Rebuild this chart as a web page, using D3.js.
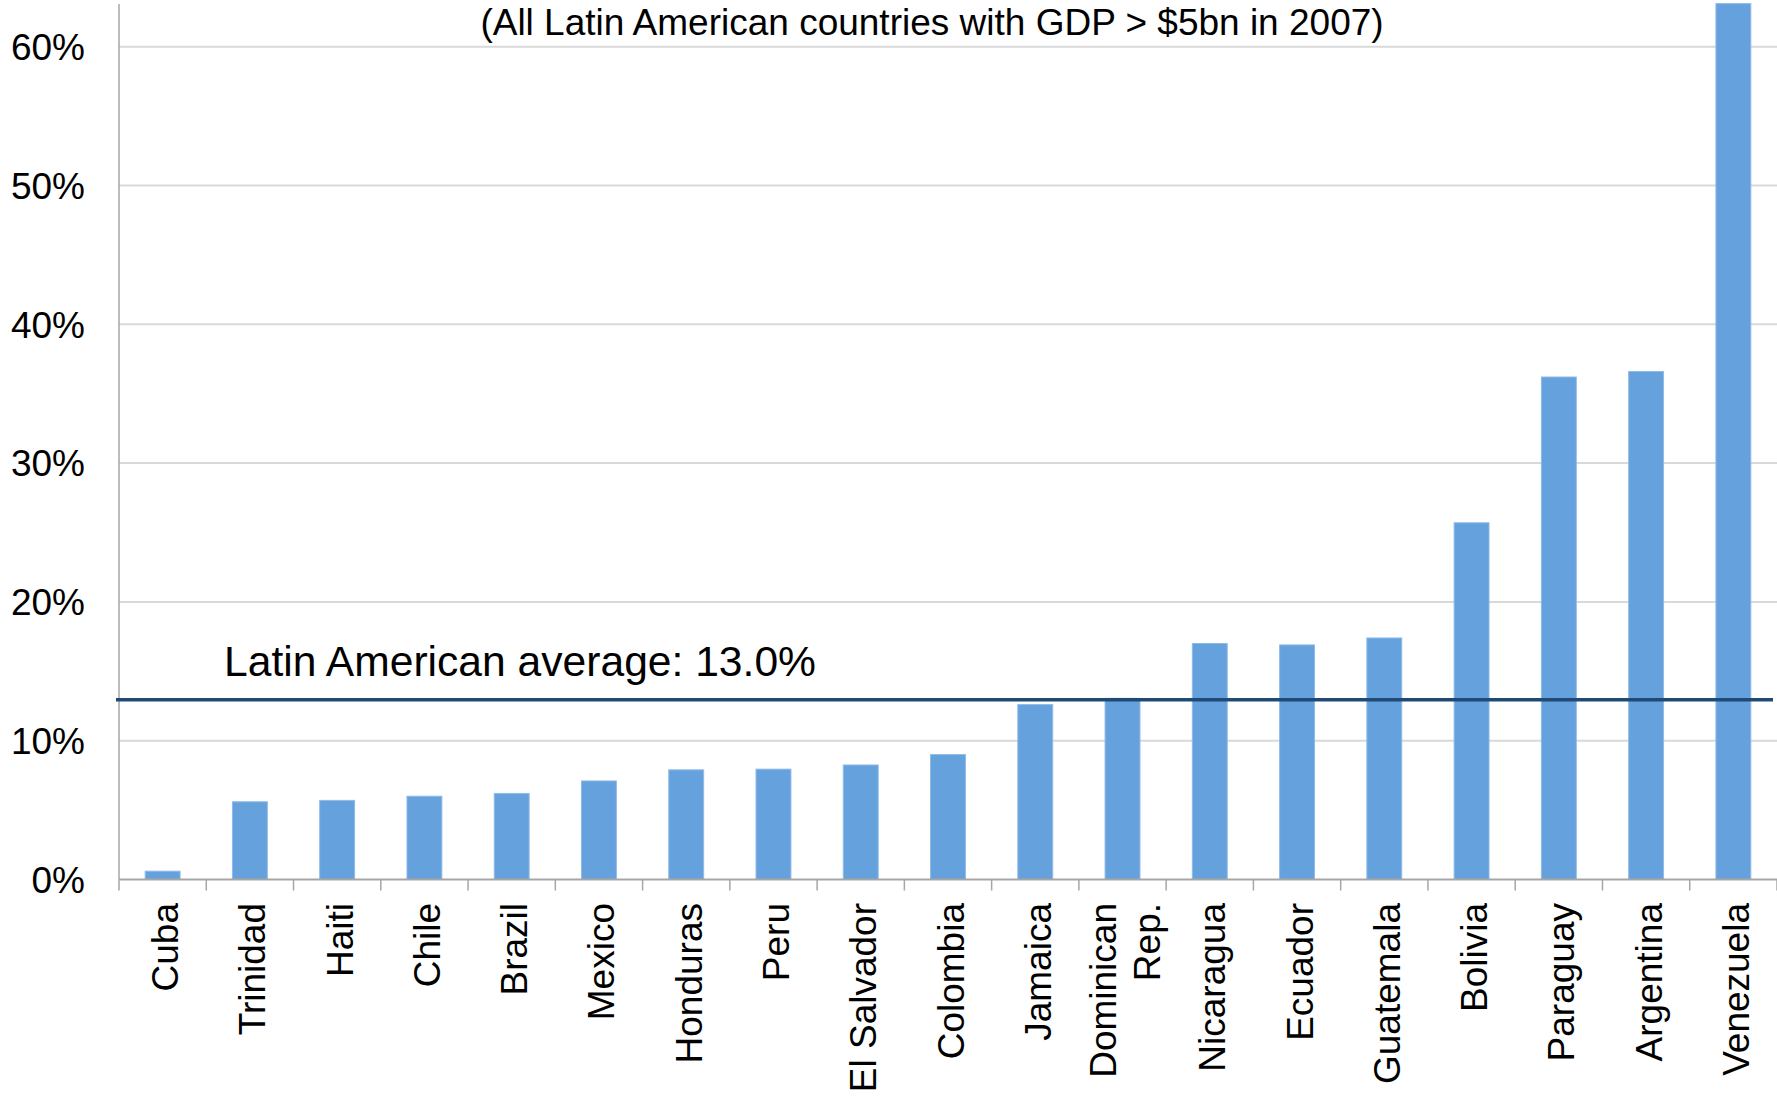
<!DOCTYPE html>
<html>
<head>
<meta charset="utf-8">
<script src="https://cdn.jsdelivr.net/npm/d3@7"></script>
<style>
  html, body { margin: 0; padding: 0; background: #ffffff; }
  svg { display: block; font-family: "Liberation Sans", Arial, sans-serif; }
</style>
</head>
<body>
<svg id="chart" width="1777" height="1097"></svg>
<script>
const categories = ["Cuba", "Trinidad", "Haiti", "Chile", "Brazil", "Mexico", "Honduras", "Peru",
  "El Salvador", "Colombia", "Jamaica", "Dominican Rep.", "Nicaragua", "Ecuador", "Guatemala",
  "Bolivia", "Paraguay", "Argentina", "Venezuela"];
const categoryLines = [["Cuba"], ["Trinidad"], ["Haiti"], ["Chile"], ["Brazil"], ["Mexico"], ["Honduras"], ["Peru"],
  ["El Salvador"], ["Colombia"], ["Jamaica"], ["Dominican", "Rep."], ["Nicaragua"], ["Ecuador"], ["Guatemala"],
  ["Bolivia"], ["Paraguay"], ["Argentina"], ["Venezuela"]];
const values = [0.6, 5.6, 5.7, 6.0, 6.2, 7.1, 7.9, 7.95, 8.25, 9.0, 12.6, 13.05, 17.0, 16.9, 17.4,
  25.7, 36.2, 36.6, 63.1];
const yTicks = [0, 10, 20, 30, 40, 50, 60];
const average = 12.95;
const averageLabel = "Latin American average: 13.0%";
const subtitle = "(All Latin American countries with GDP > $5bn in 2007)";

(function () {
const svg = d3.select("#chart");
const pLeft = 119, pRight = 1777, pTop = 5, pBottom = 879.5;

const x = d3.scaleBand().domain(categories).range([pLeft, pRight]).paddingInner(0.6).paddingOuter(0.3);
const xEdge = d3.scaleBand().domain(categories).range([pLeft, pRight]).padding(0);
const y = d3.scaleLinear().domain([0, 63]).range([pBottom, pTop]);

// gridlines
svg.append("g").selectAll("line").data(yTicks.filter(d => d > 0)).join("line")
  .attr("x1", pLeft).attr("x2", pRight)
  .attr("y1", d => y(d)).attr("y2", d => y(d))
  .attr("stroke", "#d9d9d9").attr("stroke-width", 2);

// y axis line
svg.append("line").attr("x1", pLeft).attr("x2", pLeft).attr("y1", 4).attr("y2", pBottom)
  .attr("stroke", "#a6a6a6").attr("stroke-width", 1.5);

// y tick labels
svg.append("g").selectAll("text").data(yTicks).join("text")
  .attr("x", 85).attr("y", d => y(d))
  .attr("dy", "0.36em")
  .attr("text-anchor", "end")
  .attr("font-size", 37)
  .attr("fill", "#000")
  .text(d => d + "%");

// bars
svg.append("g").selectAll("rect").data(categories).join("rect")
  .attr("x", d => x(d))
  .attr("width", x.bandwidth())
  .attr("y", (d, i) => y(values[i]))
  .attr("height", (d, i) => pBottom - y(values[i]))
  .attr("fill", "#65a1dc")
  .attr("stroke", "#8fbbe8")
  .attr("stroke-width", 1);

// x axis line and ticks
svg.append("line").attr("x1", pLeft).attr("x2", pRight).attr("y1", pBottom).attr("y2", pBottom)
  .attr("stroke", "#a6a6a6").attr("stroke-width", 2);
const edges = categories.map(c => xEdge(c)).concat([pRight]);
svg.append("g").selectAll("line").data(edges).join("line")
  .attr("x1", d => d).attr("x2", d => d)
  .attr("y1", pBottom).attr("y2", pBottom + 11)
  .attr("stroke", "#a6a6a6").attr("stroke-width", 1.5);

// x labels
const lineGap = 44;
const lab = svg.append("g").selectAll("text").data(categories).join("text")
  .attr("transform", d => `translate(${x(d) + x.bandwidth() / 2},903) rotate(-90)`)
  .attr("text-anchor", "end")
  .attr("font-size", 37)
  .attr("fill", "#000");
lab.each(function(d, i) {
  const lines = categoryLines[i];
  const n = lines.length;
  d3.select(this).selectAll("tspan").data(lines).join("tspan")
    .attr("x", 0)
    .attr("y", (t, j) => (j - (n - 1) / 2) * lineGap)
    .attr("dy", "0.42em")
    .text(t => t);
});

// average line
svg.append("line").attr("x1", 116).attr("x2", 1773)
  .attr("y1", y(average)).attr("y2", y(average))
  .attr("stroke", "#1f4a75").attr("stroke-width", 3.3);
svg.append("text").attr("x", 224).attr("y", 676)
  .attr("font-size", 42.6).attr("fill", "#000").text(averageLabel);

// subtitle
svg.append("text").attr("x", 932).attr("y", 35)
  .attr("text-anchor", "middle").attr("font-size", 37).attr("fill", "#000").text(subtitle);
})();
</script>
</body>
</html>
